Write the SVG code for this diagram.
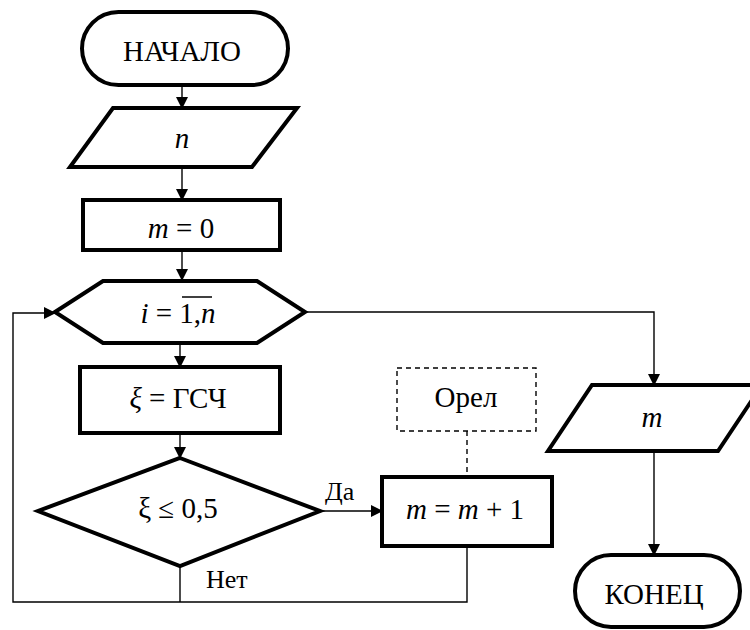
<svg xmlns="http://www.w3.org/2000/svg" width="750" height="630" viewBox="0 0 750 630" font-family="'Liberation Serif', 'DejaVu Serif', serif">
<style>
.s{fill:#fff;stroke:#000;stroke-width:4;stroke-linejoin:miter}
.c{fill:none;stroke:#000;stroke-width:1.4}
.d{fill:none;stroke:#000;stroke-width:1.4;stroke-dasharray:5,4}
.t{font-family:'Liberation Serif','DejaVu Serif',serif;font-size:29px;fill:#000;text-anchor:middle}
.l{font-family:'Liberation Serif','DejaVu Serif',serif;font-size:26px;fill:#000}
.i{font-style:italic}
</style>
<defs>
<marker id="a" markerWidth="12" markerHeight="12" refX="11" refY="6" orient="auto" markerUnits="userSpaceOnUse">
<path d="M0,0 L12,6 L0,12 Z" fill="#000"/>
</marker>
</defs>
<rect width="750" height="630" fill="#fff"/>
<g id="connectors">
<line class="c" x1="182" y1="85" x2="182" y2="108" marker-end="url(#a)"/>
<line class="c" x1="182" y1="167" x2="182" y2="200" marker-end="url(#a)"/>
<line class="c" x1="182" y1="250" x2="182" y2="280" marker-end="url(#a)"/>
<line class="c" x1="180" y1="343" x2="180" y2="367" marker-end="url(#a)"/>
<line class="c" x1="180" y1="433" x2="180" y2="458" marker-end="url(#a)"/>
<line class="c" x1="320" y1="511" x2="382" y2="511" marker-end="url(#a)"/>
<polyline class="c" points="180,566 180,602"/>
<polyline class="c" points="467,546 467,602 13,602 13,313 55,313" marker-end="url(#a)"/>
<polyline class="c" points="305,312 654,312 654,385" marker-end="url(#a)"/>
<line class="c" x1="654" y1="451" x2="654" y2="555" marker-end="url(#a)"/>
<line class="d" x1="467" y1="431" x2="467" y2="477"/>
<text class="l" x="325" y="500">Да</text>
<text class="l" x="206" y="588">Нет</text>
</g>
<g id="start">
<rect class="s" x="82" y="12" width="206" height="73" rx="36.5"/>
<text class="t" x="182" y="61">НАЧАЛО</text>
</g>
<g id="input-n">
<polygon class="s" points="113,108 297,108 252,167 70,167"/>
<text class="t i" x="182" y="148">n</text>
</g>
<g id="init-m">
<rect class="s" x="83" y="200" width="197" height="50"/>
<text class="t" x="181" y="238"><tspan class="i">m</tspan> = 0</text>
</g>
<g id="loop">
<polygon class="s" points="55,312 103,281 257,281 305,312 257,343 103,343"/>
<text class="t" x="178" y="323"><tspan class="i">i</tspan> = 1,<tspan class="i">n</tspan></text>
<line x1="182" y1="297" x2="212" y2="297" stroke="#000" stroke-width="1.5"/>
</g>
<g id="rng">
<rect class="s" x="80" y="367" width="200" height="66"/>
<text class="t" x="178" y="408"><tspan class="i">ξ</tspan> = ГСЧ</text>
</g>
<g id="cond">
<polygon class="s" points="180,458 320,511 180,566 38,511"/>
<text class="t" x="178" y="518">ξ ≤ 0,5</text>
</g>
<g id="inc">
<rect class="s" x="382" y="477" width="170" height="69"/>
<text class="t" x="465" y="519"><tspan class="i">m</tspan> = <tspan class="i">m</tspan> + 1</text>
</g>
<g id="note">
<rect class="d" x="397" y="368" width="139" height="63" fill="#fff"/>
<text class="t" x="466" y="407">Орел</text>
</g>
<g id="output-m">
<polygon class="s" points="592,385 762,385 718,451 548,451"/>
<text class="t i" x="652" y="427">m</text>
</g>
<g id="end">
<rect class="s" x="575" y="555" width="165" height="72" rx="36"/>
<text class="t" x="654" y="604">КОНЕЦ</text>
</g>
</svg>
